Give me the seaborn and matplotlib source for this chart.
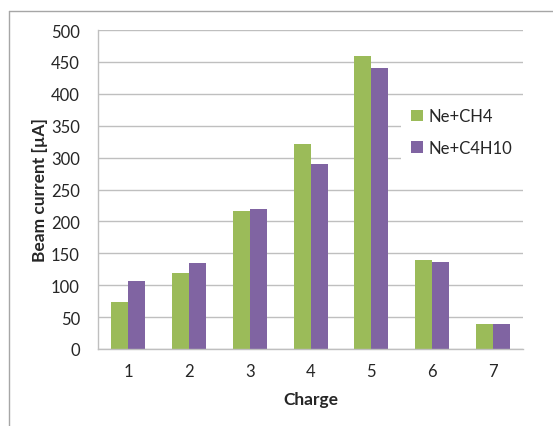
import matplotlib
matplotlib.use("Agg")
import matplotlib.pyplot as plt
import seaborn as sns
import pandas as pd
from matplotlib.lines import Line2D

charges = ["1", "2", "3", "4", "5", "6", "7"]
ne_ch4 = [73, 119, 216, 322, 460, 139, 39]
ne_c4h10 = [106, 135, 220, 290, 440, 137, 39]
series_names = ["Ne+CH4", "Ne+C4H10"]
yticks = [0, 50, 100, 150, 200, 250, 300, 350, 400, 450, 500]

df = pd.DataFrame({
    "Charge": charges * 2,
    "value": ne_ch4 + ne_c4h10,
    "series": [series_names[0]] * len(charges) + [series_names[1]] * len(charges),
})

sns.set_style("white")
plt.rcParams['font.family'] = ['Lato', 'DejaVu Sans']

fig = plt.figure(figsize=(5.53, 4.27), dpi=100)
ax = fig.add_axes([98 / 553, 1 - 350 / 427, 425 / 553, 319 / 427])

palette = {"Ne+CH4": "#9BBB59", "Ne+C4H10": "#8064A2"}
sns.barplot(data=df, x="Charge", y="value", hue="series", palette=palette,
            width=0.56, ax=ax, saturation=1, edgecolor="none")

ax.set_ylim(0, 500)
ax.set_yticks(yticks)
ax.set_xlim(-0.5, 6.5)
ax.yaxis.grid(True, color="#BFBFBF", linewidth=1.0)
ax.set_axisbelow(True)
for s in ["top", "right"]:
    ax.spines[s].set_visible(False)
for s in ["left", "bottom"]:
    ax.spines[s].set_color("#BFBFBF")
    ax.spines[s].set_linewidth(1.0)
ax.tick_params(axis="y", length=5, color="#BFBFBF", labelsize=12, labelcolor="#262626", pad=8)
ax.tick_params(axis="x", length=0, labelsize=12, labelcolor="#262626", pad=10)
ax.set_xlabel("Charge", fontsize=12.5, fontweight="bold", labelpad=9)
ax.set_ylabel("Beam current [µA]", fontsize=12.5, fontweight="bold", labelpad=2)

leg = ax.legend(loc="upper left", bbox_to_anchor=(0.694, 0.812), frameon=True,
                fontsize=12, handlelength=0.7, handleheight=0.7, handletextpad=0.35,
                labelspacing=0.95, borderpad=0.6, facecolor="white", edgecolor="white",
                framealpha=1)
leg.get_frame().set_linewidth(0)

# outer chart border
fig.add_artist(Line2D([9 / 553, 9 / 553], [0, 1 - 12 / 427], transform=fig.transFigure,
                      color="#A6A6A6", linewidth=1.0))
fig.add_artist(Line2D([9 / 553, 1], [1 - 12 / 427, 1 - 12 / 427], transform=fig.transFigure,
                      color="#A6A6A6", linewidth=1.0))

fig.savefig("out.png", dpi=100)
